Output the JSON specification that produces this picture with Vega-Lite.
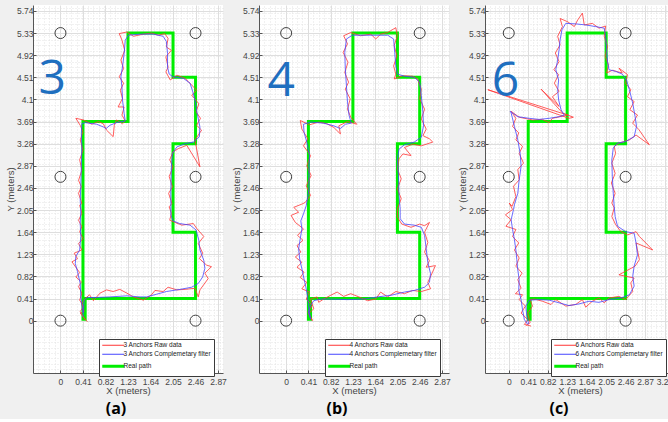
{
  "$schema": "https://vega.github.io/schema/vega-lite/v6.json",
  "background": "#f0f0f0",
  "padding": {"left": 5, "top": 5, "right": 0, "bottom": 2},
  "bounds": "flush",
  "spacing": 36,
  "config": {
    "font": "Liberation Sans",
    "view": {"fill": "white", "stroke": null},
    "axis": {"labelFont": "Liberation Sans", "titleFont": "Liberation Sans", "labelFontSize": 8.5, "labelColor": "#454545", "titleFontSize": 9.5, "titleFontWeight": "normal", "titleColor": "#454545", "domainColor": "#555555", "tickColor": "#555555", "tickSize": -3, "labelPadding": 3, "gridColor": "#dedede", "gridWidth": 1},
    "axisBottom": {"labelPadding": 7},
    "legend": {"orient": "none", "legendX": 66, "legendY": 334, "fillColor": "white", "strokeColor": "#3a3a3a", "padding": 3, "labelFontSize": 6.5, "labelFont": "Liberation Sans", "labelColor": "#222222", "symbolType": "M-1,0H6.33", "symbolSize": 36, "rowPadding": 2, "labelOffset": 15, "labelLimit": 200, "title": null},
    "title": {"orient": "bottom", "fontSize": 16, "fontWeight": "bold", "font": "Open Sans", "color": "#000000", "offset": 6}
  },
  "resolve": {"scale": {"color": "independent", "x": "independent", "y": "independent"}, "legend": {"color": "independent"}},
  "datasets": {
    "anchors": [{"x":0,"y":0},{"x":2.46,"y":0},{"x":0,"y":2.665},{"x":2.46,"y":2.665},{"x":0,"y":5.33},{"x":2.46,"y":5.33}],
    "a": [
      {"s":"g","x":0.41,"y":0},{"s":"g","x":0.41,"y":3.69},{"s":"g","x":1.23,"y":3.69},{"s":"g","x":1.23,"y":5.33},{"s":"g","x":2.05,"y":5.33},{"s":"g","x":2.05,"y":4.51},{"s":"g","x":2.46,"y":4.51},{"s":"g","x":2.46,"y":3.28},{"s":"g","x":2.05,"y":3.28},{"s":"g","x":2.05,"y":1.64},{"s":"g","x":2.46,"y":1.64},{"s":"g","x":2.46,"y":0.41},{"s":"g","x":0.45,"y":0.41},{"s":"g","x":0.45,"y":0},
      {"s":"r","x":0.45,"y":0.01},{"s":"r","x":0.36,"y":0.17},{"s":"r","x":0.42,"y":0.26},{"s":"r","x":0.35,"y":0.38},{"s":"r","x":0.39,"y":0.51},{"s":"r","x":0.33,"y":0.63},{"s":"r","x":0.38,"y":0.72},{"s":"r","x":0.28,"y":0.81},{"s":"r","x":0.35,"y":0.89},{"s":"r","x":0.21,"y":1.09},{"s":"r","x":0.31,"y":1.15},{"s":"r","x":0.25,"y":1.25},{"s":"r","x":0.39,"y":1.31},{"s":"r","x":0.33,"y":1.43},{"s":"r","x":0.41,"y":1.52},{"s":"r","x":0.35,"y":1.65},{"s":"r","x":0.39,"y":1.74},{"s":"r","x":0.33,"y":1.86},{"s":"r","x":0.39,"y":1.99},{"s":"r","x":0.35,"y":2.14},{"s":"r","x":0.39,"y":2.17},{"s":"r","x":0.33,"y":2.36},{"s":"r","x":0.38,"y":2.48},{"s":"r","x":0.33,"y":2.6},{"s":"r","x":0.39,"y":2.79},{"s":"r","x":0.35,"y":2.98},{"s":"r","x":0.41,"y":3.16},{"s":"r","x":0.36,"y":3.35},{"s":"r","x":0.41,"y":3.5},{"s":"r","x":0.36,"y":3.62},{"s":"r","x":0.28,"y":3.75},{"s":"r","x":0.42,"y":3.72},{"s":"r","x":0.57,"y":3.64},{"s":"r","x":0.69,"y":3.69},{"s":"r","x":0.78,"y":3.65},{"s":"r","x":0.84,"y":3.53},{"s":"r","x":0.96,"y":3.41},{"s":"r","x":0.98,"y":3.62},{"s":"r","x":1.02,"y":3.72},{"s":"r","x":1.13,"y":3.65},{"s":"r","x":1.18,"y":3.7},{"s":"r","x":1.12,"y":3.81},{"s":"r","x":1.16,"y":3.96},{"s":"r","x":1.05,"y":3.96},{"s":"r","x":1.13,"y":4.12},{"s":"r","x":1.09,"y":4.27},{"s":"r","x":1.15,"y":4.4},{"s":"r","x":1.07,"y":4.52},{"s":"r","x":1.15,"y":4.67},{"s":"r","x":1.1,"y":4.83},{"s":"r","x":1.17,"y":5.01},{"s":"r","x":1.12,"y":5.2},{"s":"r","x":1.07,"y":5.32},{"s":"r","x":1.21,"y":5.35},{"s":"r","x":1.33,"y":5.27},{"s":"r","x":1.51,"y":5.31},{"s":"r","x":1.66,"y":5.33},{"s":"r","x":1.78,"y":5.29},{"s":"r","x":1.9,"y":5.32},{"s":"r","x":1.96,"y":5.23},{"s":"r","x":1.93,"y":5.07},{"s":"r","x":2.02,"y":5.01},{"s":"r","x":1.92,"y":4.89},{"s":"r","x":1.96,"y":4.7},{"s":"r","x":1.92,"y":4.61},{"s":"r","x":2.0,"y":4.46},{"s":"r","x":2.12,"y":4.55},{"s":"r","x":2.27,"y":4.49},{"s":"r","x":2.33,"y":4.43},{"s":"r","x":2.48,"y":4.27},{"s":"r","x":2.39,"y":4.18},{"s":"r","x":2.52,"y":4.02},{"s":"r","x":2.47,"y":3.87},{"s":"r","x":2.55,"y":3.75},{"s":"r","x":2.48,"y":3.62},{"s":"r","x":2.57,"y":3.53},{"s":"r","x":2.45,"y":3.35},{"s":"r","x":2.54,"y":2.85},{"s":"r","x":2.3,"y":3.25},{"s":"r","x":2.15,"y":3.19},{"s":"r","x":2.05,"y":3.13},{"s":"r","x":1.99,"y":2.98},{"s":"r","x":2.05,"y":2.85},{"s":"r","x":1.98,"y":2.67},{"s":"r","x":2.04,"y":2.48},{"s":"r","x":1.97,"y":2.36},{"s":"r","x":2.03,"y":2.17},{"s":"r","x":1.98,"y":2.11},{"s":"r","x":2.02,"y":1.99},{"s":"r","x":1.99,"y":1.86},{"s":"r","x":2.21,"y":1.77},{"s":"r","x":2.42,"y":1.8},{"s":"r","x":2.48,"y":1.71},{"s":"r","x":2.61,"y":1.56},{"s":"r","x":2.51,"y":1.43},{"s":"r","x":2.59,"y":1.25},{"s":"r","x":2.53,"y":1.15},{"s":"r","x":2.66,"y":1.03},{"s":"r","x":2.75,"y":1.0},{"s":"r","x":2.63,"y":0.88},{"s":"r","x":2.69,"y":0.78},{"s":"r","x":2.54,"y":0.57},{"s":"r","x":2.51,"y":0.44},{"s":"r","x":2.45,"y":0.6},{"s":"r","x":2.27,"y":0.58},{"s":"r","x":2.12,"y":0.57},{"s":"r","x":1.96,"y":0.62},{"s":"r","x":1.87,"y":0.54},{"s":"r","x":1.72,"y":0.56},{"s":"r","x":1.66,"y":0.48},{"s":"r","x":1.51,"y":0.38},{"s":"r","x":1.33,"y":0.44},{"s":"r","x":1.21,"y":0.51},{"s":"r","x":1.08,"y":0.58},{"s":"r","x":0.96,"y":0.54},{"s":"r","x":0.84,"y":0.57},{"s":"r","x":0.72,"y":0.51},{"s":"r","x":0.6,"y":0.37},{"s":"r","x":0.53,"y":0.48},{"s":"r","x":0.45,"y":0.41},{"s":"r","x":0.39,"y":0.32},{"s":"r","x":0.43,"y":0.17},{"s":"r","x":0.36,"y":0.14},{"s":"r","x":0.49,"y":-0.02},
      {"s":"f","x":0.41,"y":0.14},{"s":"f","x":0.37,"y":0.44},{"s":"f","x":0.36,"y":0.69},{"s":"f","x":0.31,"y":0.91},{"s":"f","x":0.27,"y":1.06},{"s":"f","x":0.28,"y":1.19},{"s":"f","x":0.35,"y":1.31},{"s":"f","x":0.37,"y":1.56},{"s":"f","x":0.36,"y":1.8},{"s":"f","x":0.37,"y":2.05},{"s":"f","x":0.36,"y":2.23},{"s":"f","x":0.37,"y":2.48},{"s":"f","x":0.38,"y":2.85},{"s":"f","x":0.39,"y":3.22},{"s":"f","x":0.38,"y":3.47},{"s":"f","x":0.39,"y":3.65},{"s":"f","x":0.45,"y":3.67},{"s":"f","x":0.66,"y":3.64},{"s":"f","x":0.78,"y":3.59},{"s":"f","x":0.83,"y":3.56},{"s":"f","x":0.9,"y":3.62},{"s":"f","x":1.02,"y":3.67},{"s":"f","x":1.18,"y":3.7},{"s":"f","x":1.16,"y":3.84},{"s":"f","x":1.13,"y":4.09},{"s":"f","x":1.12,"y":4.33},{"s":"f","x":1.1,"y":4.52},{"s":"f","x":1.13,"y":4.7},{"s":"f","x":1.16,"y":4.95},{"s":"f","x":1.18,"y":5.2},{"s":"f","x":1.24,"y":5.29},{"s":"f","x":1.45,"y":5.31},{"s":"f","x":1.69,"y":5.31},{"s":"f","x":1.87,"y":5.27},{"s":"f","x":1.93,"y":5.17},{"s":"f","x":1.95,"y":4.95},{"s":"f","x":1.95,"y":4.7},{"s":"f","x":1.98,"y":4.57},{"s":"f","x":2.05,"y":4.52},{"s":"f","x":2.24,"y":4.49},{"s":"f","x":2.36,"y":4.4},{"s":"f","x":2.41,"y":4.24},{"s":"f","x":2.45,"y":4.09},{"s":"f","x":2.49,"y":3.84},{"s":"f","x":2.54,"y":3.59},{"s":"f","x":2.53,"y":3.41},{"s":"f","x":2.42,"y":3.31},{"s":"f","x":2.27,"y":3.28},{"s":"f","x":2.12,"y":3.22},{"s":"f","x":2.04,"y":3.1},{"s":"f","x":2.02,"y":2.85},{"s":"f","x":2.01,"y":2.48},{"s":"f","x":2.01,"y":2.23},{"s":"f","x":2.01,"y":2.11},{"s":"f","x":2.01,"y":1.96},{"s":"f","x":2.05,"y":1.85},{"s":"f","x":2.17,"y":1.8},{"s":"f","x":2.36,"y":1.77},{"s":"f","x":2.47,"y":1.68},{"s":"f","x":2.52,"y":1.49},{"s":"f","x":2.54,"y":1.31},{"s":"f","x":2.61,"y":1.12},{"s":"f","x":2.63,"y":0.97},{"s":"f","x":2.59,"y":0.81},{"s":"f","x":2.51,"y":0.69},{"s":"f","x":2.39,"y":0.62},{"s":"f","x":2.18,"y":0.58},{"s":"f","x":1.93,"y":0.54},{"s":"f","x":1.75,"y":0.49},{"s":"f","x":1.57,"y":0.44},{"s":"f","x":1.45,"y":0.44},{"s":"f","x":1.21,"y":0.46},{"s":"f","x":0.9,"y":0.44},{"s":"f","x":0.66,"y":0.43},{"s":"f","x":0.49,"y":0.43},{"s":"f","x":0.43,"y":0.38},{"s":"f","x":0.42,"y":0.2},{"s":"f","x":0.41,"y":0.07}
    ],
    "b": [
      {"s":"g","x":0.41,"y":0},{"s":"g","x":0.41,"y":3.69},{"s":"g","x":1.23,"y":3.69},{"s":"g","x":1.23,"y":5.33},{"s":"g","x":2.05,"y":5.33},{"s":"g","x":2.05,"y":4.51},{"s":"g","x":2.46,"y":4.51},{"s":"g","x":2.46,"y":3.28},{"s":"g","x":2.05,"y":3.28},{"s":"g","x":2.05,"y":1.64},{"s":"g","x":2.46,"y":1.64},{"s":"g","x":2.46,"y":0.41},{"s":"g","x":0.45,"y":0.41},{"s":"g","x":0.45,"y":0},
      {"s":"r","x":0.49,"y":0.0},{"s":"r","x":0.4,"y":0.16},{"s":"r","x":0.48,"y":0.28},{"s":"r","x":0.37,"y":0.4},{"s":"r","x":0.43,"y":0.53},{"s":"r","x":0.29,"y":0.59},{"s":"r","x":0.38,"y":0.71},{"s":"r","x":0.26,"y":0.8},{"s":"r","x":0.33,"y":0.9},{"s":"r","x":0.2,"y":0.99},{"s":"r","x":0.29,"y":1.08},{"s":"r","x":0.17,"y":1.18},{"s":"r","x":0.27,"y":1.27},{"s":"r","x":0.2,"y":1.39},{"s":"r","x":0.31,"y":1.49},{"s":"r","x":0.21,"y":1.58},{"s":"r","x":0.32,"y":1.7},{"s":"r","x":0.17,"y":1.82},{"s":"r","x":0.09,"y":1.95},{"s":"r","x":0.23,"y":2.01},{"s":"r","x":0.14,"y":2.1},{"s":"r","x":0.29,"y":2.16},{"s":"r","x":0.35,"y":2.19},{"s":"r","x":0.45,"y":2.32},{"s":"r","x":0.37,"y":2.5},{"s":"r","x":0.46,"y":2.69},{"s":"r","x":0.38,"y":2.87},{"s":"r","x":0.45,"y":3.06},{"s":"r","x":0.32,"y":3.24},{"s":"r","x":0.4,"y":3.37},{"s":"r","x":0.29,"y":3.55},{"s":"r","x":0.26,"y":3.71},{"s":"r","x":0.43,"y":3.63},{"s":"r","x":0.6,"y":3.68},{"s":"r","x":0.75,"y":3.65},{"s":"r","x":0.88,"y":3.58},{"s":"r","x":1.0,"y":3.46},{"s":"r","x":0.97,"y":3.61},{"s":"r","x":1.13,"y":3.69},{"s":"r","x":1.3,"y":3.64},{"s":"r","x":1.19,"y":3.77},{"s":"r","x":1.13,"y":3.92},{"s":"r","x":1.18,"y":4.11},{"s":"r","x":1.09,"y":4.29},{"s":"r","x":1.15,"y":4.42},{"s":"r","x":1.08,"y":4.6},{"s":"r","x":1.14,"y":4.79},{"s":"r","x":1.05,"y":4.97},{"s":"r","x":1.13,"y":5.13},{"s":"r","x":1.06,"y":5.28},{"s":"r","x":1.19,"y":5.34},{"s":"r","x":1.37,"y":5.28},{"s":"r","x":1.56,"y":5.31},{"s":"r","x":1.65,"y":5.22},{"s":"r","x":1.74,"y":5.31},{"s":"r","x":1.87,"y":5.34},{"s":"r","x":2.02,"y":5.43},{"s":"r","x":2.05,"y":5.28},{"s":"r","x":1.99,"y":5.1},{"s":"r","x":2.04,"y":4.91},{"s":"r","x":1.98,"y":4.72},{"s":"r","x":2.02,"y":4.57},{"s":"r","x":1.99,"y":4.48},{"s":"r","x":2.15,"y":4.54},{"s":"r","x":2.33,"y":4.53},{"s":"r","x":2.42,"y":4.48},{"s":"r","x":2.49,"y":4.29},{"s":"r","x":2.46,"y":4.11},{"s":"r","x":2.55,"y":3.92},{"s":"r","x":2.49,"y":3.74},{"s":"r","x":2.58,"y":3.55},{"s":"r","x":2.52,"y":3.43},{"s":"r","x":2.64,"y":3.37},{"s":"r","x":2.7,"y":3.31},{"s":"r","x":2.49,"y":3.24},{"s":"r","x":2.33,"y":3.27},{"s":"r","x":2.18,"y":3.21},{"s":"r","x":2.3,"y":3.06},{"s":"r","x":2.15,"y":3.09},{"s":"r","x":2.08,"y":3.0},{"s":"r","x":2.05,"y":2.81},{"s":"r","x":2.12,"y":2.63},{"s":"r","x":2.05,"y":2.44},{"s":"r","x":2.12,"y":2.26},{"s":"r","x":2.05,"y":2.07},{"s":"r","x":2.05,"y":1.92},{"s":"r","x":2.13,"y":1.79},{"s":"r","x":2.3,"y":1.73},{"s":"r","x":2.46,"y":1.79},{"s":"r","x":2.55,"y":1.76},{"s":"r","x":2.64,"y":1.82},{"s":"r","x":2.55,"y":1.64},{"s":"r","x":2.61,"y":1.45},{"s":"r","x":2.55,"y":1.27},{"s":"r","x":2.64,"y":1.11},{"s":"r","x":2.58,"y":0.99},{"s":"r","x":2.75,"y":1.02},{"s":"r","x":2.67,"y":0.84},{"s":"r","x":2.61,"y":0.71},{"s":"r","x":2.66,"y":0.59},{"s":"r","x":2.49,"y":0.54},{"s":"r","x":2.33,"y":0.56},{"s":"r","x":2.18,"y":0.5},{"s":"r","x":2.02,"y":0.54},{"s":"r","x":1.87,"y":0.44},{"s":"r","x":1.74,"y":0.53},{"s":"r","x":1.65,"y":0.4},{"s":"r","x":1.5,"y":0.37},{"s":"r","x":1.34,"y":0.44},{"s":"r","x":1.19,"y":0.5},{"s":"r","x":1.06,"y":0.45},{"s":"r","x":0.94,"y":0.53},{"s":"r","x":0.82,"y":0.47},{"s":"r","x":0.69,"y":0.4},{"s":"r","x":0.6,"y":0.34},{"s":"r","x":0.57,"y":0.44},{"s":"r","x":0.45,"y":0.4},{"s":"r","x":0.51,"y":0.22},{"s":"r","x":0.41,"y":0.13},{"s":"r","x":0.48,"y":0.0},
      {"s":"f","x":0.45,"y":0.03},{"s":"f","x":0.42,"y":0.22},{"s":"f","x":0.4,"y":0.4},{"s":"f","x":0.37,"y":0.59},{"s":"f","x":0.33,"y":0.77},{"s":"f","x":0.29,"y":0.96},{"s":"f","x":0.25,"y":1.14},{"s":"f","x":0.23,"y":1.33},{"s":"f","x":0.26,"y":1.52},{"s":"f","x":0.29,"y":1.7},{"s":"f","x":0.27,"y":1.85},{"s":"f","x":0.32,"y":1.98},{"s":"f","x":0.37,"y":2.13},{"s":"f","x":0.42,"y":2.44},{"s":"f","x":0.42,"y":2.81},{"s":"f","x":0.43,"y":3.06},{"s":"f","x":0.38,"y":3.31},{"s":"f","x":0.33,"y":3.49},{"s":"f","x":0.32,"y":3.64},{"s":"f","x":0.45,"y":3.68},{"s":"f","x":0.69,"y":3.66},{"s":"f","x":0.88,"y":3.61},{"s":"f","x":1.0,"y":3.56},{"s":"f","x":1.09,"y":3.64},{"s":"f","x":1.2,"y":3.66},{"s":"f","x":1.16,"y":3.8},{"s":"f","x":1.13,"y":4.05},{"s":"f","x":1.11,"y":4.36},{"s":"f","x":1.09,"y":4.66},{"s":"f","x":1.08,"y":4.97},{"s":"f","x":1.11,"y":5.22},{"s":"f","x":1.22,"y":5.29},{"s":"f","x":1.56,"y":5.29},{"s":"f","x":1.87,"y":5.29},{"s":"f","x":1.98,"y":5.22},{"s":"f","x":2.0,"y":4.97},{"s":"f","x":2.02,"y":4.72},{"s":"f","x":2.05,"y":4.57},{"s":"f","x":2.18,"y":4.53},{"s":"f","x":2.36,"y":4.51},{"s":"f","x":2.46,"y":4.42},{"s":"f","x":2.49,"y":4.17},{"s":"f","x":2.52,"y":3.86},{"s":"f","x":2.53,"y":3.61},{"s":"f","x":2.49,"y":3.4},{"s":"f","x":2.36,"y":3.31},{"s":"f","x":2.18,"y":3.26},{"s":"f","x":2.08,"y":3.18},{"s":"f","x":2.05,"y":3.0},{"s":"f","x":2.07,"y":2.69},{"s":"f","x":2.08,"y":2.32},{"s":"f","x":2.1,"y":2.07},{"s":"f","x":2.1,"y":1.89},{"s":"f","x":2.18,"y":1.79},{"s":"f","x":2.36,"y":1.77},{"s":"f","x":2.49,"y":1.73},{"s":"f","x":2.55,"y":1.58},{"s":"f","x":2.58,"y":1.33},{"s":"f","x":2.61,"y":1.08},{"s":"f","x":2.66,"y":0.87},{"s":"f","x":2.64,"y":0.71},{"s":"f","x":2.55,"y":0.62},{"s":"f","x":2.36,"y":0.56},{"s":"f","x":2.18,"y":0.53},{"s":"f","x":1.93,"y":0.47},{"s":"f","x":1.68,"y":0.44},{"s":"f","x":1.43,"y":0.4},{"s":"f","x":1.13,"y":0.39},{"s":"f","x":0.82,"y":0.4},{"s":"f","x":0.63,"y":0.4},{"s":"f","x":0.51,"y":0.37},{"s":"f","x":0.45,"y":0.28},{"s":"f","x":0.41,"y":0.16},{"s":"f","x":0.45,"y":0.03}
    ],
    "c": [
      {"s":"g","x":0.41,"y":0},{"s":"g","x":0.41,"y":3.69},{"s":"g","x":1.23,"y":3.69},{"s":"g","x":1.23,"y":5.33},{"s":"g","x":2.05,"y":5.33},{"s":"g","x":2.05,"y":4.51},{"s":"g","x":2.46,"y":4.51},{"s":"g","x":2.46,"y":3.28},{"s":"g","x":2.05,"y":3.28},{"s":"g","x":2.05,"y":1.64},{"s":"g","x":2.46,"y":1.64},{"s":"g","x":2.46,"y":0.41},{"s":"g","x":0.45,"y":0.41},{"s":"g","x":0.45,"y":0},
      {"s":"r","x":0.47,"y":-0.1},{"s":"r","x":0.33,"y":-0.07},{"s":"r","x":0.4,"y":0.02},{"s":"r","x":0.26,"y":0.14},{"s":"r","x":0.35,"y":0.27},{"s":"r","x":0.22,"y":0.39},{"s":"r","x":0.29,"y":0.48},{"s":"r","x":0.14,"y":0.5},{"s":"r","x":0.26,"y":0.6},{"s":"r","x":0.19,"y":0.76},{"s":"r","x":0.28,"y":0.88},{"s":"r","x":0.15,"y":1.01},{"s":"r","x":0.22,"y":1.16},{"s":"r","x":0.12,"y":1.31},{"s":"r","x":0.21,"y":1.44},{"s":"r","x":0.08,"y":1.56},{"s":"r","x":0.15,"y":1.69},{"s":"r","x":-0.06,"y":1.75},{"s":"r","x":0.05,"y":1.87},{"s":"r","x":-0.07,"y":1.96},{"s":"r","x":0.08,"y":2.06},{"s":"r","x":0.01,"y":2.18},{"s":"r","x":0.07,"y":2.12},{"s":"r","x":0.15,"y":2.3},{"s":"r","x":0.1,"y":2.49},{"s":"r","x":0.22,"y":2.61},{"s":"r","x":0.19,"y":2.8},{"s":"r","x":0.31,"y":2.92},{"s":"r","x":0.22,"y":3.1},{"s":"r","x":0.29,"y":3.23},{"s":"r","x":0.15,"y":3.35},{"s":"r","x":0.21,"y":3.48},{"s":"r","x":0.08,"y":3.6},{"s":"r","x":0.15,"y":3.75},{"s":"r","x":0.05,"y":3.88},{"s":"r","x":0.22,"y":3.77},{"s":"r","x":0.5,"y":3.72},{"s":"r","x":0.71,"y":3.73},{"s":"r","x":0.85,"y":3.67},{"s":"r","x":0.92,"y":3.75},{"s":"r","x":1.24,"y":3.81},{"s":"r","x":-0.44,"y":4.28},{"s":"r","x":1.27,"y":3.75},{"s":"r","x":1.36,"y":3.77},{"s":"r","x":1.13,"y":3.85},{"s":"r","x":0.68,"y":4.29},{"s":"r","x":1.06,"y":3.97},{"s":"r","x":0.92,"y":4.15},{"s":"r","x":1.06,"y":4.25},{"s":"r","x":0.96,"y":4.4},{"s":"r","x":1.05,"y":4.56},{"s":"r","x":0.95,"y":4.65},{"s":"r","x":1.06,"y":4.8},{"s":"r","x":0.98,"y":4.96},{"s":"r","x":1.08,"y":5.11},{"s":"r","x":1.03,"y":5.27},{"s":"r","x":1.13,"y":5.45},{"s":"r","x":1.08,"y":5.6},{"s":"r","x":1.24,"y":5.54},{"s":"r","x":1.38,"y":5.45},{"s":"r","x":1.45,"y":5.57},{"s":"r","x":1.55,"y":5.7},{"s":"r","x":1.59,"y":5.48},{"s":"r","x":1.76,"y":5.51},{"s":"r","x":1.9,"y":5.42},{"s":"r","x":2.04,"y":5.46},{"s":"r","x":2.01,"y":5.27},{"s":"r","x":2.08,"y":5.08},{"s":"r","x":2.03,"y":4.9},{"s":"r","x":2.1,"y":4.74},{"s":"r","x":2.06,"y":4.59},{"s":"r","x":2.18,"y":4.64},{"s":"r","x":2.39,"y":4.59},{"s":"r","x":2.32,"y":4.68},{"s":"r","x":2.5,"y":4.56},{"s":"r","x":2.46,"y":4.4},{"s":"r","x":2.57,"y":4.28},{"s":"r","x":2.5,"y":4.15},{"s":"r","x":2.64,"y":4.06},{"s":"r","x":2.55,"y":3.91},{"s":"r","x":2.71,"y":3.81},{"s":"r","x":2.61,"y":3.66},{"s":"r","x":2.74,"y":3.54},{"s":"r","x":2.96,"y":3.26},{"s":"r","x":2.68,"y":3.44},{"s":"r","x":2.54,"y":3.35},{"s":"r","x":2.32,"y":3.29},{"s":"r","x":2.22,"y":3.23},{"s":"r","x":2.25,"y":3.1},{"s":"r","x":2.17,"y":2.92},{"s":"r","x":2.24,"y":2.73},{"s":"r","x":2.16,"y":2.55},{"s":"r","x":2.24,"y":2.36},{"s":"r","x":2.17,"y":2.18},{"s":"r","x":2.22,"y":2.09},{"s":"r","x":2.17,"y":1.93},{"s":"r","x":2.25,"y":1.78},{"s":"r","x":2.36,"y":1.65},{"s":"r","x":2.5,"y":1.59},{"s":"r","x":2.68,"y":1.65},{"s":"r","x":2.75,"y":1.56},{"s":"r","x":3.03,"y":1.31},{"s":"r","x":2.68,"y":1.44},{"s":"r","x":2.75,"y":1.13},{"s":"r","x":2.66,"y":1.01},{"s":"r","x":2.32,"y":0.85},{"s":"r","x":2.64,"y":0.79},{"s":"r","x":2.57,"y":0.7},{"s":"r","x":2.61,"y":0.54},{"s":"r","x":2.46,"y":0.39},{"s":"r","x":2.32,"y":0.45},{"s":"r","x":2.11,"y":0.42},{"s":"r","x":2.01,"y":0.33},{"s":"r","x":1.9,"y":0.42},{"s":"r","x":1.76,"y":0.36},{"s":"r","x":1.62,"y":0.25},{"s":"r","x":1.55,"y":0.39},{"s":"r","x":1.41,"y":0.3},{"s":"r","x":1.2,"y":0.27},{"s":"r","x":0.99,"y":0.39},{"s":"r","x":0.89,"y":0.3},{"s":"r","x":0.71,"y":0.36},{"s":"r","x":0.54,"y":0.4},{"s":"r","x":0.45,"y":0.39},{"s":"r","x":0.5,"y":0.27},{"s":"r","x":0.4,"y":0.14},{"s":"r","x":0.45,"y":-0.04},{"s":"r","x":0.36,"y":-0.09},
      {"s":"f","x":0.4,"y":-0.07},{"s":"f","x":0.33,"y":0.02},{"s":"f","x":0.29,"y":0.2},{"s":"f","x":0.26,"y":0.39},{"s":"f","x":0.21,"y":0.57},{"s":"f","x":0.22,"y":0.76},{"s":"f","x":0.19,"y":0.94},{"s":"f","x":0.17,"y":1.13},{"s":"f","x":0.15,"y":1.31},{"s":"f","x":0.12,"y":1.5},{"s":"f","x":0.08,"y":1.69},{"s":"f","x":0.05,"y":1.87},{"s":"f","x":0.1,"y":2.06},{"s":"f","x":0.12,"y":2.15},{"s":"f","x":0.19,"y":2.36},{"s":"f","x":0.22,"y":2.61},{"s":"f","x":0.26,"y":2.86},{"s":"f","x":0.24,"y":3.1},{"s":"f","x":0.19,"y":3.35},{"s":"f","x":0.12,"y":3.6},{"s":"f","x":0.05,"y":3.85},{"s":"f","x":0.03,"y":3.88},{"s":"f","x":0.19,"y":3.78},{"s":"f","x":0.43,"y":3.75},{"s":"f","x":0.64,"y":3.73},{"s":"f","x":0.85,"y":3.75},{"s":"f","x":1.06,"y":3.78},{"s":"f","x":1.17,"y":3.81},{"s":"f","x":1.1,"y":3.91},{"s":"f","x":1.05,"y":4.09},{"s":"f","x":1.03,"y":4.28},{"s":"f","x":1.05,"y":4.46},{"s":"f","x":0.99,"y":4.65},{"s":"f","x":1.03,"y":4.83},{"s":"f","x":1.06,"y":5.02},{"s":"f","x":1.08,"y":5.2},{"s":"f","x":1.12,"y":5.39},{"s":"f","x":1.2,"y":5.51},{"s":"f","x":1.41,"y":5.5},{"s":"f","x":1.62,"y":5.48},{"s":"f","x":1.83,"y":5.45},{"s":"f","x":2.01,"y":5.42},{"s":"f","x":2.04,"y":5.27},{"s":"f","x":2.06,"y":5.02},{"s":"f","x":2.08,"y":4.8},{"s":"f","x":2.11,"y":4.65},{"s":"f","x":2.25,"y":4.62},{"s":"f","x":2.39,"y":4.57},{"s":"f","x":2.48,"y":4.46},{"s":"f","x":2.54,"y":4.28},{"s":"f","x":2.61,"y":4.03},{"s":"f","x":2.66,"y":3.78},{"s":"f","x":2.69,"y":3.6},{"s":"f","x":2.64,"y":3.41},{"s":"f","x":2.46,"y":3.32},{"s":"f","x":2.29,"y":3.29},{"s":"f","x":2.2,"y":3.2},{"s":"f","x":2.17,"y":2.98},{"s":"f","x":2.18,"y":2.67},{"s":"f","x":2.2,"y":2.36},{"s":"f","x":2.22,"y":2.12},{"s":"f","x":2.24,"y":1.93},{"s":"f","x":2.29,"y":1.75},{"s":"f","x":2.46,"y":1.65},{"s":"f","x":2.64,"y":1.62},{"s":"f","x":2.68,"y":1.44},{"s":"f","x":2.71,"y":1.22},{"s":"f","x":2.64,"y":1.01},{"s":"f","x":2.61,"y":0.82},{"s":"f","x":2.64,"y":0.64},{"s":"f","x":2.54,"y":0.48},{"s":"f","x":2.36,"y":0.42},{"s":"f","x":2.11,"y":0.39},{"s":"f","x":1.9,"y":0.34},{"s":"f","x":1.69,"y":0.36},{"s":"f","x":1.48,"y":0.31},{"s":"f","x":1.27,"y":0.28},{"s":"f","x":1.06,"y":0.33},{"s":"f","x":0.85,"y":0.38},{"s":"f","x":0.64,"y":0.39},{"s":"f","x":0.43,"y":0.38},{"s":"f","x":0.36,"y":0.27},{"s":"f","x":0.38,"y":0.08},{"s":"f","x":0.42,"y":-0.06}
    ]
  },
  "hconcat": [
    {
      "width": 190, "height": 368,
      "title": {"text": "(a)", "dx": -12},
      "resolve": {"axis": {"x": "independent", "y": "independent"}},
      "layer": [
        {
          "data": {"name": "anchors"},
          "mark": {"type": "point", "shape": "circle", "filled": false, "size": 121, "stroke": "#404040", "strokeWidth": 1, "opacity": 1},
          "encoding": {
            "x": {"field": "x", "type": "quantitative", "scale": {"domain": [-0.5, 2.96], "nice": false, "zero": false}, "axis": {"orient": "top", "tickCount": 35, "grid": true, "gridColor": "#e2e2e2", "gridDash": [1, 2], "labels": false, "ticks": false, "domain": false, "title": null}},
            "y": {"field": "y", "type": "quantitative", "scale": {"domain": [-0.97, 5.85], "nice": false, "zero": false}, "axis": {"orient": "right", "tickCount": 70, "grid": true, "gridColor": "#e2e2e2", "gridDash": [1, 2], "labels": false, "ticks": false, "domain": false, "title": null}}
          }
        },
        {
          "data": {"name": "a"},
          "transform": [{"filter": "datum.s == 'g'"}],
          "mark": {"type": "line", "strokeWidth": 3},
          "encoding": {
            "x": {"field": "x", "type": "quantitative", "axis": {"orient": "bottom", "values": [0, 0.41, 0.82, 1.23, 1.64, 2.05, 2.46, 2.87], "format": ".3~g", "grid": true, "title": "X (meters)", "titlePadding": 0}},
            "y": {"field": "y", "type": "quantitative", "axis": {"orient": "left", "values": [0, 0.41, 0.82, 1.23, 1.64, 2.05, 2.46, 2.87, 3.28, 3.69, 4.1, 4.51, 4.92, 5.33, 5.74], "format": ".3~g", "grid": true, "title": "Y (meters)", "titlePadding": 1}},
            "order": {"value": null},
            "color": {"field": "s", "type": "nominal", "scale": {"domain": ["r", "f", "g"], "range": ["#ff3535", "#4545ff", "#00ee00"]}, "legend": {"labelExpr": "datum.value == 'r' ? '3 Anchors Raw data' : datum.value == 'f' ? '3 Anchors Complemetary filter' : 'Real path'", "symbolStrokeWidth": 1, "encode": {"symbols": {"update": {"strokeWidth": {"signal": "datum.value == 'g' ? 3 : 1"}}}}}}
          }
        },
        {
          "data": {"name": "a"},
          "transform": [{"filter": "datum.s != 'g'"}],
          "mark": {"type": "line", "strokeWidth": 0.8},
          "encoding": {
            "x": {"field": "x", "type": "quantitative", "axis": null},
            "y": {"field": "y", "type": "quantitative", "axis": null},
            "order": {"value": null},
            "color": {"field": "s", "type": "nominal"}
          }
        },
        {
          "data": {"values": [{"x": -0.15, "y": 4.46, "t": "3"}]},
          "mark": {"type": "text", "fontSize": 48, "font": "Open Sans", "color": "#1f6fbf", "align": "center", "baseline": "middle"},
          "encoding": {
            "x": {"field": "x", "type": "quantitative", "axis": null},
            "y": {"field": "y", "type": "quantitative", "axis": null},
            "text": {"field": "t", "type": "nominal"}
          }
        }
      ]
    },
    {
      "width": 190, "height": 368,
      "title": {"text": "(b)", "dx": -17},
      "resolve": {"axis": {"x": "independent", "y": "independent"}},
      "layer": [
        {
          "data": {"name": "anchors"},
          "mark": {"type": "point", "shape": "circle", "filled": false, "size": 121, "stroke": "#404040", "strokeWidth": 1, "opacity": 1},
          "encoding": {
            "x": {"field": "x", "type": "quantitative", "scale": {"domain": [-0.5, 3.0], "nice": false, "zero": false}, "axis": {"orient": "top", "tickCount": 35, "grid": true, "gridColor": "#e2e2e2", "gridDash": [1, 2], "labels": false, "ticks": false, "domain": false, "title": null}},
            "y": {"field": "y", "type": "quantitative", "scale": {"domain": [-0.97, 5.85], "nice": false, "zero": false}, "axis": {"orient": "right", "tickCount": 70, "grid": true, "gridColor": "#e2e2e2", "gridDash": [1, 2], "labels": false, "ticks": false, "domain": false, "title": null}}
          }
        },
        {
          "data": {"name": "b"},
          "transform": [{"filter": "datum.s == 'g'"}],
          "mark": {"type": "line", "strokeWidth": 3},
          "encoding": {
            "x": {"field": "x", "type": "quantitative", "axis": {"orient": "bottom", "values": [0, 0.41, 0.82, 1.23, 1.64, 2.05, 2.46, 2.87], "format": ".3~g", "grid": true, "title": "X (meters)", "titlePadding": 0}},
            "y": {"field": "y", "type": "quantitative", "axis": {"orient": "left", "values": [0, 0.41, 0.82, 1.23, 1.64, 2.05, 2.46, 2.87, 3.28, 3.69, 4.1, 4.51, 4.92, 5.33, 5.74], "format": ".3~g", "grid": true, "title": "Y (meters)", "titlePadding": 1}},
            "order": {"value": null},
            "color": {"field": "s", "type": "nominal", "scale": {"domain": ["r", "f", "g"], "range": ["#ff3535", "#4545ff", "#00ee00"]}, "legend": {"labelExpr": "datum.value == 'r' ? '4 Anchors Raw data' : datum.value == 'f' ? '4 Anchors Complemetary filter' : 'Real path'", "symbolStrokeWidth": 1, "encode": {"symbols": {"update": {"strokeWidth": {"signal": "datum.value == 'g' ? 3 : 1"}}}}}}
          }
        },
        {
          "data": {"name": "b"},
          "transform": [{"filter": "datum.s != 'g'"}],
          "mark": {"type": "line", "strokeWidth": 0.8},
          "encoding": {
            "x": {"field": "x", "type": "quantitative", "axis": null},
            "y": {"field": "y", "type": "quantitative", "axis": null},
            "order": {"value": null},
            "color": {"field": "s", "type": "nominal"}
          }
        },
        {
          "data": {"values": [{"x": -0.09, "y": 4.42, "t": "4"}]},
          "mark": {"type": "text", "fontSize": 48, "font": "Open Sans", "color": "#1f6fbf", "align": "center", "baseline": "middle"},
          "encoding": {
            "x": {"field": "x", "type": "quantitative", "axis": null},
            "y": {"field": "y", "type": "quantitative", "axis": null},
            "text": {"field": "t", "type": "nominal"}
          }
        }
      ]
    },
    {
      "width": 190, "height": 368,
      "title": {"text": "(c)", "dx": -21},
      "resolve": {"axis": {"x": "independent", "y": "independent"}},
      "layer": [
        {
          "data": {"name": "anchors"},
          "mark": {"type": "point", "shape": "circle", "filled": false, "size": 121, "stroke": "#404040", "strokeWidth": 1, "opacity": 1},
          "encoding": {
            "x": {"field": "x", "type": "quantitative", "scale": {"domain": [-0.5, 3.5], "nice": false, "zero": false}, "axis": {"orient": "top", "tickCount": 40, "grid": true, "gridColor": "#e2e2e2", "gridDash": [1, 2], "labels": false, "ticks": false, "domain": false, "title": null}},
            "y": {"field": "y", "type": "quantitative", "scale": {"domain": [-0.97, 5.85], "nice": false, "zero": false}, "axis": {"orient": "right", "tickCount": 70, "grid": true, "gridColor": "#e2e2e2", "gridDash": [1, 2], "labels": false, "ticks": false, "domain": false, "title": null}}
          }
        },
        {
          "data": {"name": "c"},
          "transform": [{"filter": "datum.s == 'g'"}],
          "mark": {"type": "line", "strokeWidth": 3},
          "encoding": {
            "x": {"field": "x", "type": "quantitative", "axis": {"orient": "bottom", "values": [0, 0.41, 0.82, 1.23, 1.64, 2.05, 2.46, 2.87, 3.28], "format": ".3~g", "grid": true, "title": "X (meters)", "titlePadding": 0}},
            "y": {"field": "y", "type": "quantitative", "axis": {"orient": "left", "values": [0, 0.41, 0.82, 1.23, 1.64, 2.05, 2.46, 2.87, 3.28, 3.69, 4.1, 4.51, 4.92, 5.33, 5.74], "format": ".3~g", "grid": true, "title": "Y (meters)", "titlePadding": 1}},
            "order": {"value": null},
            "color": {"field": "s", "type": "nominal", "scale": {"domain": ["r", "f", "g"], "range": ["#ff3535", "#4545ff", "#00ee00"]}, "legend": {"labelExpr": "datum.value == 'r' ? '6 Anchors Raw data' : datum.value == 'f' ? '6 Anchors Complemetary filter' : 'Real path'", "symbolStrokeWidth": 1, "encode": {"symbols": {"update": {"strokeWidth": {"signal": "datum.value == 'g' ? 3 : 1"}}}}}}
          }
        },
        {
          "data": {"name": "c"},
          "transform": [{"filter": "datum.s != 'g'"}],
          "mark": {"type": "line", "strokeWidth": 0.8},
          "encoding": {
            "x": {"field": "x", "type": "quantitative", "axis": null},
            "y": {"field": "y", "type": "quantitative", "axis": null},
            "order": {"value": null},
            "color": {"field": "s", "type": "nominal"}
          }
        },
        {
          "data": {"values": [{"x": -0.07, "y": 4.42, "t": "6"}]},
          "mark": {"type": "text", "fontSize": 48, "font": "Open Sans", "color": "#1f6fbf", "align": "center", "baseline": "middle"},
          "encoding": {
            "x": {"field": "x", "type": "quantitative", "axis": null},
            "y": {"field": "y", "type": "quantitative", "axis": null},
            "text": {"field": "t", "type": "nominal"}
          }
        }
      ]
    }
  ]
}
